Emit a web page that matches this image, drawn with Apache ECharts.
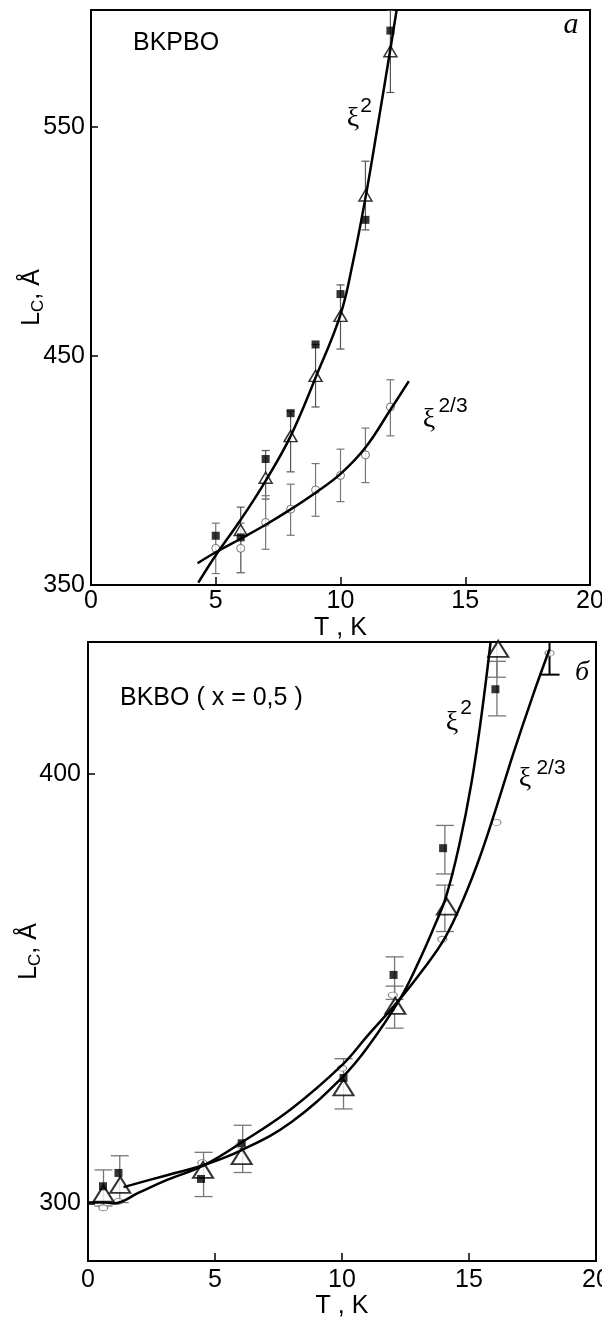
<!DOCTYPE html>
<html>
<head>
<meta charset="utf-8">
<script src="https://cdn.jsdelivr.net/npm/echarts@6/dist/echarts.min.js"></script>
<style>
html, body { margin: 0; padding: 0; background: #fff; }
#chart { width: 602px; height: 1321px; }
</style>
</head>
<body>
<div id="chart"></div>
<script>
// ---- data (a): BKPBO ----
var topSqT = [5, 6, 7, 8, 9, 10, 11, 12];
var topSqL = [371.5, 370.8, 405, 425, 455, 477, 509.4, 592];
var topTriT = [6, 7, 8, 9, 10, 11, 12];
var topTriL = [374, 396.8, 415, 441.3, 467.5, 520, 583];
var topTriLo = [355.4, 387.5, 399.4, 427.7, 453, 505, 565];
var topTriHi = [384, 408.7, 425.8, 455, 481, 535, 601];
var topCircT = [5, 6, 7, 8, 9, 10, 11, 12];
var topCircL = [366, 366, 377.3, 383.1, 391.5, 397.8, 406.8, 427.7];
var topCircLo = [355, 355.4, 365.6, 371.7, 380, 386.4, 394.7, 415.1];
var topCircHi = [377, 377, 389, 394, 403, 409.3, 418.5, 439.6];
var topFit2T = [4.3, 5, 6, 7, 8, 9, 10, 10.5, 11, 11.5, 12, 12.25];
var topFit2L = [351, 363, 378.5, 395.5, 415, 440.5, 468, 491, 519, 551, 584, 601];
var topFit23T = [4.27, 5, 6, 7, 8, 9, 10, 11, 12, 12.74];
var topFit23L = [359.5, 364.3, 370.2, 376.3, 383, 390.3, 398.5, 410, 426.5, 439];
var topYTicks = [350, 450, 550];

// ---- data (б): BKBO (x = 0,5) ----
var botSqT = [0.59, 1.2, 4.45, 6.05, 10.06, 12.03, 13.98, 16.04];
var botSqL = [304, 307.1, 305.7, 314, 329.2, 353.2, 382.7, 419.7];
var botTriT = [0.61, 1.27, 4.53, 6.05, 10.06, 12.1, 14.13, 16.15];
var botTriL = [302.3, 304.3, 307.8, 311, 327, 346, 369.1, 429.1];
var botCircT = [0.6, 1.2, 4.5, 6.0, 10.0, 12.0, 13.95, 16.08, 18.17];
var botCircL = [299, 300.5, 309.5, 313.5, 331.5, 348.5, 361.5, 388.7, 428.1];
var botBarT = [0.61, 1.25, 4.55, 6.09, 10.06, 12.07, 12.07, 14.05, 14.05, 16.1, 16.1];
var botBarLo = [299.4, 300.2, 301.6, 307.2, 322, 340.8, 347.5, 363.3, 376.7, 413.5, 422.5];
var botBarHi = [307.8, 311.1, 311.9, 318.2, 333.7, 350.6, 357.4, 374.1, 388, 426.2, 436];
var botCapT = [18.17];
var botCapLo = [423.1];
var botCapHi = [436];
var botFit2T = [1.4, 2.5, 3.5, 4.6, 6.05, 8, 10, 11, 12.27, 13.0, 13.6, 14.1, 14.6, 15.1, 15.5, 15.85];
var botFit2L = [303.8, 305.6, 307.2, 309, 312.4, 318.9, 329.3, 336.3, 347.5, 356, 364, 371.5, 383, 398, 414, 430.7];
var botFit23T = [0, 0.7, 1.0, 2.0, 3.0, 4.6, 6.05, 8, 10, 11, 12.27, 13.2, 14.07, 14.79, 15.45, 16.04, 16.76, 17.5, 18.17];
var botFit23L = [300.2, 300.2, 300.0, 302.5, 305.2, 309, 314.2, 322, 332.2, 339, 347.5, 354.5, 362, 371, 381, 391.5, 405, 418, 429];
var botYTicks = [300, 400];

var FONT = '"Liberation Sans", Arial, sans-serif';
var SERIF = '"Liberation Serif", "DejaVu Serif", serif';

function pairs(xs, ys) {
    return xs.map(function (x, i) { return [x, ys[i]]; });
}
function triples(xs, lo, hi) {
    return xs.map(function (x, i) { return [x, lo[i], hi[i]]; });
}

// vertical error bar with caps
function errorBar(capHalf, color, width) {
    return function (params, api) {
        var x = api.value(0);
        var pLo = api.coord([x, api.value(1)]);
        var pHi = api.coord([x, api.value(2)]);
        var st = { stroke: color, lineWidth: width };
        return {
            type: 'group',
            children: [
                { type: 'line', shape: { x1: pLo[0], y1: pLo[1], x2: pHi[0], y2: pHi[1] }, style: st },
                { type: 'line', shape: { x1: pLo[0] - capHalf, y1: pLo[1], x2: pLo[0] + capHalf, y2: pLo[1] }, style: st },
                { type: 'line', shape: { x1: pHi[0] - capHalf, y1: pHi[1], x2: pHi[0] + capHalf, y2: pHi[1] }, style: st }
            ]
        };
    };
}

function xAxisOf(grid, gap, margin) {
    return {
        gridIndex: grid, type: 'value', min: 0, max: 20, interval: 5,
        name: 'T , K', nameLocation: 'middle', nameGap: gap,
        nameTextStyle: { fontSize: 25, fontFamily: FONT, color: '#000' },
        axisLine: { lineStyle: { color: '#000', width: 2 } },
        axisTick: { inside: true, length: 8, lineStyle: { color: '#000', width: 1.5 } },
        axisLabel: { fontSize: 25, fontFamily: FONT, color: '#000', margin: margin },
        splitLine: { show: false }
    };
}
function yAxisOf(grid, min, max, ticks, margin) {
    return {
        gridIndex: grid, type: 'value', min: min, max: max,
        name: '{l|L}{c|C}{l|, Å}', nameLocation: 'middle', nameRotate: 90, nameGap: 44,
        nameMoveOverlap: false,
        nameTextStyle: {
            color: '#000',
            rich: {
                l: { fontSize: 25, fontFamily: FONT, color: '#000', lineHeight: 30 },
                c: { fontSize: 17, fontFamily: FONT, color: '#000', lineHeight: 30, verticalAlign: 'bottom' }
            }
        },
        axisLine: { lineStyle: { color: '#000', width: 2 } },
        axisTick: { inside: true, length: 7, customValues: ticks, lineStyle: { color: '#000', width: 1.5 } },
        axisLabel: { fontSize: 25, fontFamily: FONT, color: '#000', margin: margin, customValues: ticks },
        splitLine: { show: false }
    };
}

function lineSeries(ax, xs, ys) {
    return {
        type: 'line', xAxisIndex: ax, yAxisIndex: ax, data: pairs(xs, ys),
        smooth: 0.4, showSymbol: false, clip: true, z: 4,
        lineStyle: { color: '#000', width: 2.5 }
    };
}

var myChart = echarts.init(document.getElementById('chart'));

var option = {
    backgroundColor: '#fff',
    animation: false,
    grid: [
        { left: 91, top: 10, width: 499, height: 575, show: true, borderColor: '#000', borderWidth: 2, outerBoundsMode: 'none' },
        { left: 88, top: 642, width: 508, height: 619, show: true, borderColor: '#000', borderWidth: 2, outerBoundsMode: 'none' }
    ],
    xAxis: [xAxisOf(0, 31, 4), xAxisOf(1, 32, 7)],
    yAxis: [yAxisOf(0, 350, 601, topYTicks, 6), yAxisOf(1, 286.6, 430.7, botYTicks, 7)],
    series: [
        // (a)
        { type: 'custom', xAxisIndex: 0, yAxisIndex: 0, clip: true, z: 2,
          renderItem: errorBar(4, '#555', 1.2), encode: { x: 0, y: [1, 2] },
          data: triples(topTriT, topTriLo, topTriHi) },
        { type: 'custom', xAxisIndex: 0, yAxisIndex: 0, clip: true, z: 2,
          renderItem: errorBar(4, '#777', 1.2), encode: { x: 0, y: [1, 2] },
          data: triples(topCircT, topCircLo, topCircHi) },
        { type: 'scatter', xAxisIndex: 0, yAxisIndex: 0, z: 3, symbol: 'circle', symbolSize: 8,
          itemStyle: { color: '#fff', borderColor: '#555', borderWidth: 1 },
          data: pairs(topCircT, topCircL) },
        { type: 'scatter', xAxisIndex: 0, yAxisIndex: 0, z: 3, symbol: 'triangle', symbolSize: [13, 11],
          itemStyle: { color: '#fff', borderColor: '#000', borderWidth: 1.5 },
          data: pairs(topTriT, topTriL) },
        lineSeries(0, topFit2T, topFit2L),
        lineSeries(0, topFit23T, topFit23L),
        { type: 'scatter', xAxisIndex: 0, yAxisIndex: 0, z: 5, symbol: 'rect', symbolSize: 8,
          itemStyle: { color: '#000' }, data: pairs(topSqT, topSqL) },
        // (б)
        { type: 'custom', xAxisIndex: 1, yAxisIndex: 1, clip: true, z: 2,
          renderItem: errorBar(9, '#777', 1.3), encode: { x: 0, y: [1, 2] },
          data: triples(botBarT, botBarLo, botBarHi) },
        { type: 'custom', xAxisIndex: 1, yAxisIndex: 1, clip: true, z: 2,
          renderItem: errorBar(10, '#000', 2), encode: { x: 0, y: [1, 2] },
          data: triples(botCapT, botCapLo, botCapHi) },
        { type: 'scatter', xAxisIndex: 1, yAxisIndex: 1, z: 3, symbol: 'circle', symbolSize: [9, 6],
          itemStyle: { color: '#fff', borderColor: '#666', borderWidth: 1 },
          data: pairs(botCircT, botCircL) },
        { type: 'scatter', xAxisIndex: 1, yAxisIndex: 1, z: 3, symbol: 'triangle', symbolSize: [20, 16],
          itemStyle: { color: '#fff', borderColor: '#000', borderWidth: 2 },
          data: pairs(botTriT, botTriL) },
        lineSeries(1, botFit2T, botFit2L),
        lineSeries(1, botFit23T, botFit23L),
        { type: 'scatter', xAxisIndex: 1, yAxisIndex: 1, z: 5, symbol: 'rect', symbolSize: 8,
          itemStyle: { color: '#000' }, data: pairs(botSqT, botSqL) }
    ],
    graphic: [
        { type: 'text', x: 133, y: 43, style: { text: 'BKPBO', font: '25px ' + FONT, fill: '#000', align: 'left', verticalAlign: 'middle' } },
        { type: 'text', x: 571, y: 25, style: { text: 'a', font: 'italic 30px ' + SERIF, fill: '#000', align: 'center', verticalAlign: 'middle' } },
        { type: 'text', x: 353, y: 119, style: { text: 'ξ', font: '28px ' + SERIF, fill: '#000', align: 'center', verticalAlign: 'middle' } },
        { type: 'text', x: 366, y: 106, style: { text: '2', font: '21px ' + FONT, fill: '#000', align: 'center', verticalAlign: 'middle' } },
        { type: 'text', x: 429, y: 420, style: { text: 'ξ', font: '28px ' + SERIF, fill: '#000', align: 'center', verticalAlign: 'middle' } },
        { type: 'text', x: 453, y: 406, style: { text: '2/3', font: '21px ' + FONT, fill: '#000', align: 'center', verticalAlign: 'middle' } },
        { type: 'text', x: 120, y: 698, style: { text: 'BKBO ( x = 0,5 )', font: '25px ' + FONT, fill: '#000', align: 'left', verticalAlign: 'middle' } },
        { type: 'text', x: 582, y: 673, style: { text: 'б', font: 'italic 28px ' + SERIF, fill: '#000', align: 'center', verticalAlign: 'middle' } },
        { type: 'text', x: 452, y: 723, style: { text: 'ξ', font: '28px ' + SERIF, fill: '#000', align: 'center', verticalAlign: 'middle' } },
        { type: 'text', x: 466, y: 708, style: { text: '2', font: '21px ' + FONT, fill: '#000', align: 'center', verticalAlign: 'middle' } },
        { type: 'text', x: 525, y: 779, style: { text: 'ξ', font: '28px ' + SERIF, fill: '#000', align: 'center', verticalAlign: 'middle' } },
        { type: 'text', x: 551, y: 768, style: { text: '2/3', font: '21px ' + FONT, fill: '#000', align: 'center', verticalAlign: 'middle' } }
    ]
};

myChart.setOption(option);
</script>
</body>
</html>
